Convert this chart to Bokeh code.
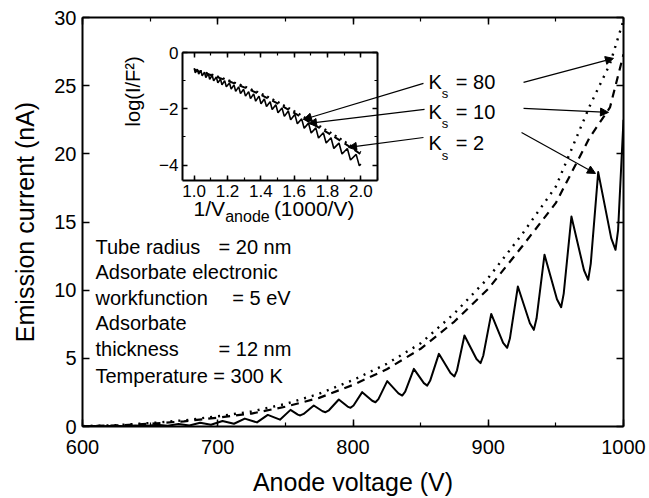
import math
from bokeh.plotting import figure
from bokeh.layouts import column
from bokeh.models import (Range1d, LinearAxis, SingleIntervalTicker, Label, Arrow,
                          NormalHead, NumeralTickFormatter, CustomJSTickFormatter)
from bokeh.embed import file_html
from bokeh.resources import INLINE

FONT = "Liberation Sans"

# ---------------- main plot data (Anode voltage V, Emission current nA) ----------------
voltage_ks80 = [600, 625, 650, 675, 700, 725, 750, 775, 800, 825, 850, 875, 900, 925, 950, 975, 990, 1000]
current_ks80 = [0.03, 0.1, 0.25, 0.45, 0.75, 1.1, 1.65, 2.4, 3.4, 4.6, 6.1, 8.3, 10.9, 14.1, 17.6, 23.5, 26.6, 29.8]

voltage_ks10 = [600, 625, 650, 675, 700, 725, 750, 775, 800, 825, 850, 875, 900, 925, 950, 975, 990, 1000]
current_ks10 = [0.02, 0.08, 0.2, 0.38, 0.65, 0.95, 1.45, 2.1, 3.05, 4.2, 5.7, 7.7, 10.1, 13.2, 16.4, 21.2, 23.4, 27.3]

voltage_ks2 = [600, 608, 616, 623.5, 631, 639, 647, 655, 663, 671,
               679, 687, 695, 703.5, 712, 720, 729, 737, 746, 753.8,
               759.2, 761, 763.5, 771, 777.5, 779.7, 782.2, 789.5, 796.0, 798.2,
               800.4, 806.8, 814.2, 816.6, 818.8, 825.3, 833.6, 836.4, 838.6, 845,
               852.4, 854.9, 857.0, 863.5, 872.1, 875, 876.9, 882.4, 891.3, 894.3,
               896.3, 902.2, 911.0, 914, 916.0, 921.9, 930.8, 933.7, 935.7, 941.6,
               950.8, 953.9, 955.8, 961.5, 970.8, 973.9, 975.8, 981.3, 990.9, 994.1,
               996.0, 1000]
current_ks2 = [0.01, 0.03, 0.01, 0.05, 0.02, 0.08, 0.03, 0.12, 0.05, 0.18,
               0.08, 0.27, 0.13, 0.4, 0.2, 0.58, 0.3, 0.85, 0.5, 1.22,
               0.87, 0.81, 0.92, 1.54, 1.12, 1.05, 1.19, 1.98, 1.46, 1.37,
               1.54, 2.52, 1.89, 1.78, 2.01, 3.33, 2.43, 2.27, 2.56, 4.23,
               3.18, 3.0, 3.35, 5.33, 3.92, 3.67, 4.12, 6.68, 4.95, 4.65,
               5.19, 8.26, 6.14, 5.77, 6.45, 10.27, 7.57, 7.09, 7.92, 12.6,
               9.33, 8.75, 9.75, 15.4, 11.46, 10.76, 11.95, 18.66, 13.82, 12.96,
               14.4, 22.5]

# ---------------- inset data (1/V_anode in 1000/V, log(I/F^2)) ----------------
inset_x_ks2 = [1.000, 1.007, 1.019, 1.027, 1.040, 1.048, 1.062, 1.070, 1.085, 1.093,
               1.108, 1.117, 1.133, 1.142, 1.158, 1.167, 1.183, 1.193, 1.212, 1.222,
               1.239, 1.249, 1.267, 1.278, 1.297, 1.308, 1.327, 1.338, 1.357, 1.369,
               1.389, 1.401, 1.421, 1.434, 1.456, 1.468, 1.490, 1.503, 1.527, 1.541,
               1.565, 1.579, 1.604, 1.619, 1.645, 1.660, 1.686, 1.702, 1.730, 1.746,
               1.775, 1.792, 1.821, 1.838, 1.869, 1.887, 1.919, 1.938, 1.972, 1.991, 2.000]
inset_y_ks2 = [-0.56, -0.72, -0.59, -0.77, -0.64, -0.83, -0.70, -0.89, -0.75, -0.95,
               -0.81, -1.01, -0.87, -1.08, -0.94, -1.15, -1.00, -1.22, -1.08, -1.30,
               -1.15, -1.38, -1.22, -1.46, -1.31, -1.55, -1.39, -1.64, -1.47, -1.73,
               -1.55, -1.82, -1.65, -1.92, -1.75, -2.03, -1.86, -2.14, -1.97, -2.27,
               -2.08, -2.39, -2.20, -2.53, -2.36, -2.69, -2.51, -2.86, -2.68, -3.04,
               -2.85, -3.22, -3.03, -3.41, -3.22, -3.61, -3.41, -3.82, -3.62, -4.03, -3.96]

inset_x_smooth = [1.0, 1.1, 1.2, 1.3, 1.4, 1.5, 1.6, 1.7, 1.8, 1.9, 2.0]
inset_y_ks10 = [-0.62, -0.80, -1.00, -1.24, -1.50, -1.81, -2.15, -2.50, -2.85, -3.22, -3.62]
inset_y_ks80 = [-0.60, -0.77, -0.97, -1.20, -1.45, -1.75, -2.08, -2.43, -2.78, -3.15, -3.55]

legend_labels = ["80", "10", "2"]
info_lines = ["Tube radius", "Adsorbate electronic", "workfunction", "Adsorbate", "thickness", "Temperature = 300 K"]
info_values = ["= 20 nm", None, "= 5 eV", None, "= 12 nm", None]


def style_axis(ax, fs, show_labels=True, tick_in=7, minor_in=4):
    ax.axis_line_width = 2
    ax.axis_line_color = "black"
    ax.major_tick_in = tick_in
    ax.major_tick_out = 0
    ax.minor_tick_in = minor_in
    ax.minor_tick_out = 0
    ax.major_tick_line_width = 1.5
    ax.minor_tick_line_width = 1.2
    ax.major_label_text_font = FONT
    ax.major_label_text_color = "black"
    if show_labels:
        ax.major_label_text_font_size = fs
    else:
        ax.major_label_text_font_size = "0px"
        ax.major_label_standoff = 0
        ax.formatter = CustomJSTickFormatter(code="return ''")


# ---------------- main figure ----------------
p = figure(width=649, height=498, x_range=Range1d(600, 1000), y_range=Range1d(0, 30),
           output_backend="svg", toolbar_location=None,
           min_border_left=82, min_border_right=26, min_border_top=17, min_border_bottom=72)
p.outline_line_color = None
p.xgrid.visible = False
p.ygrid.visible = False
p.background_fill_color = "white"
p.border_fill_color = "white"

p.xaxis.ticker = SingleIntervalTicker(interval=100, num_minor_ticks=2)
p.yaxis.ticker = SingleIntervalTicker(interval=5, num_minor_ticks=0)
style_axis(p.xaxis[0], "20px")
style_axis(p.yaxis[0], "20px")
p.xaxis.axis_label = "Anode voltage (V)"
p.yaxis.axis_label = "Emission current (nA)"
for ax in (p.xaxis[0], p.yaxis[0]):
    ax.axis_label_text_font = FONT
    ax.axis_label_text_font_size = "25px"
    ax.axis_label_text_font_style = "normal"
    ax.axis_label_text_color = "black"
p.xaxis.major_label_standoff = 13
p.xaxis.axis_label_standoff = 11
p.yaxis.major_label_standoff = 6
p.yaxis.axis_label_standoff = 12

top_ax = LinearAxis(ticker=SingleIntervalTicker(interval=100, num_minor_ticks=2))
right_ax = LinearAxis(ticker=SingleIntervalTicker(interval=5, num_minor_ticks=0))
style_axis(top_ax, "0px", show_labels=False)
style_axis(right_ax, "0px", show_labels=False)
p.add_layout(top_ax, "above")
p.add_layout(right_ax, "right")

p.line(voltage_ks80, current_ks80, line_color="black", line_width=2.4, line_dash="2 6")
p.line(voltage_ks10, current_ks10, line_color="black", line_width=2.2, line_dash="8 6")
p.line(voltage_ks2, current_ks2, line_color="black", line_width=2, line_join="round")

# info text block
info_y = [13.13, 11.3, 9.46, 7.56, 5.65, 3.74]
value_x = [700.6, None, 710.7, None, 700.6, None]
for txt, val, yy, vx in zip(info_lines, info_values, info_y, value_x):
    p.add_layout(Label(x=609.6, y=yy, text=txt, text_font=FONT, text_font_size="20px",
                       text_baseline="middle", text_align="left", text_color="black"))
    if val is not None:
        p.add_layout(Label(x=vx, y=yy, text=val, text_font=FONT, text_font_size="20px",
                           text_baseline="middle", text_align="left", text_color="black"))

# K_s labels
k_y = [25.24, 23.04, 20.76]
for lab, yy in zip(legend_labels, k_y):
    p.add_layout(Label(x=855.8, y=yy, text="K", text_font=FONT, text_font_size="20px",
                       text_baseline="middle", text_align="left", text_color="black"))
    p.add_layout(Label(x=865.6, y=yy - 0.85, text="s", text_font=FONT, text_font_size="13px",
                       text_baseline="middle", text_align="left", text_color="black"))
    p.add_layout(Label(x=876.0, y=yy, text="= " + lab, text_font=FONT, text_font_size="20px",
                       text_baseline="middle", text_align="left", text_color="black"))

# arrows to main curves
main_arrows = [(926.1, 25.24, 992.6, 27.0), (926.1, 23.33, 988.9, 23.04), (924.6, 21.57, 979.3, 18.56)]
# arrows to inset curves
inset_arrows = [(852.1, 25.17, 763.4, 22.52), (852.9, 23.26, 767.1, 22.23), (852.1, 21.2, 796.7, 20.47)]
for xs, ys, xe, ye in main_arrows + inset_arrows:
    p.add_layout(Arrow(end=NormalHead(size=8, fill_color="black", line_color="black", line_width=1),
                       x_start=xs, y_start=ys, x_end=xe, y_end=ye,
                       line_color="black", line_width=1.2))

# inset axis titles (drawn on the main canvas)
p.add_layout(Label(x=637.0, y=24.58, text="log(I/F²)", angle=math.pi / 2, text_font=FONT,
                   text_font_size="20px", text_align="center", text_baseline="middle",
                   text_color="black"))
p.add_layout(Label(x=682.1, y=16.0, text="1/V", text_font=FONT, text_font_size="21px",
                   text_align="left", text_baseline="middle", text_color="black"))
p.add_layout(Label(x=705.5, y=15.4, text="anode", text_font=FONT, text_font_size="16px",
                   text_align="left", text_baseline="middle", text_color="black"))
p.add_layout(Label(x=741.5, y=16.0, text="(1000/V)", text_font=FONT, text_font_size="21px",
                   text_align="left", text_baseline="middle", text_color="black"))

# ---------------- inset figure ----------------
inset = figure(width=303, height=190, x_range=Range1d(0.93, 2.1), y_range=Range1d(-4.55, 0),
               output_backend="svg", toolbar_location=None,
               min_border_left=63, min_border_right=10, min_border_top=12, min_border_bottom=50)
inset.margin = (-458, 0, 0, 100)
inset.background_fill_alpha = 0
inset.border_fill_alpha = 0
inset.outline_line_color = None
inset.xgrid.visible = False
inset.ygrid.visible = False
inset.xaxis.ticker = SingleIntervalTicker(interval=0.2, num_minor_ticks=2)
inset.yaxis.ticker = SingleIntervalTicker(interval=2, num_minor_ticks=2)
inset.xaxis.formatter = NumeralTickFormatter(format="0.0")
style_axis(inset.xaxis[0], "17px", tick_in=5, minor_in=3)
style_axis(inset.yaxis[0], "17px", tick_in=5, minor_in=3)
inset.xaxis.major_label_standoff = 4
inset.yaxis.major_label_standoff = 4
itop = LinearAxis(ticker=SingleIntervalTicker(interval=0.2, num_minor_ticks=2))
iright = LinearAxis(ticker=SingleIntervalTicker(interval=2, num_minor_ticks=2))
style_axis(itop, "0px", show_labels=False, tick_in=5, minor_in=3)
style_axis(iright, "0px", show_labels=False, tick_in=5, minor_in=3)
inset.add_layout(itop, "above")
inset.add_layout(iright, "right")

inset.line(inset_x_smooth, inset_y_ks80, line_color="black", line_width=2, line_dash="2 4")
inset.line(inset_x_smooth, inset_y_ks10, line_color="black", line_width=2, line_dash="7 5")
inset.line(inset_x_ks2, inset_y_ks2, line_color="black", line_width=1.6)

layout = column(p, inset)
open("out.html", "w").write(file_html(layout, INLINE))
